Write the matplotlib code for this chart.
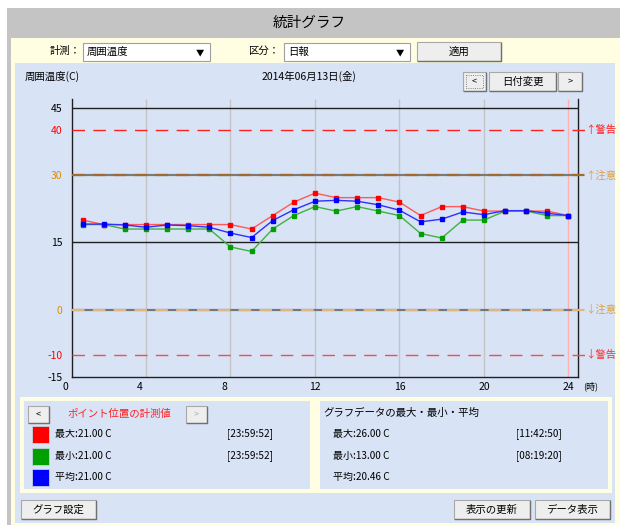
import matplotlib.pyplot as plt
from matplotlib.patches import Rectangle

plt.rcParams['font.family'] = ['Noto Sans CJK JP', 'DejaVu Sans']

# hourly readings (C)
hours = list(range(1, 25))
t_max = [20, 19, 19, 19, 19, 19, 19, 19, 18, 21, 24, 26, 25, 25, 25, 24, 21, 23, 23, 22, 22, 22, 22, 21]
t_min = [19, 19, 18, 18, 18, 18, 18, 14, 13, 18, 21, 23, 22, 23, 22, 21, 17, 16, 20, 20, 22, 22, 21, 21]
t_avg = [19.1, 19.1, 18.9, 18.4, 18.9, 18.75, 18.4, 17.1, 16.1, 19.9, 22.3, 24.2,
         24.4, 24.2, 23.4, 22.2, 19.6, 20.2, 21.8, 21.2, 22.1, 22.1, 21.5, 21.0]

x_ticks = [0, 4, 8, 12, 16, 20, 24]
y_ticks = [45, 40, 30, 15, 0, -10, -15]
y_tick_colors = ['black', 'red', '#e08a00', 'black', '#e08a00', 'red', 'black']

limit_values = [40, 30, 0, -10]
limit_labels = ['↑警告', '↑注意', '↓注意', '↓警告']
limit_colors = ['#ff2020', '#e0a040', '#e0a040', '#ff3030']

point_max_time = '[23:59:52]'
point_min_time = '[23:59:52]'
day_max_time = '[11:42:50]'
day_min_time = '[08:19:20]'
day_avg = 20.46

BLUE = '#d8e4f6'
YELLOW = '#fffde2'
GRAY = '#c4c4c4'
FS = 7.5

fig = plt.figure(figsize=(6.2, 5.25), dpi=100)
fig.patch.set_facecolor('white')

# ---- UI frame drawn in pixel coordinates ----
ui = fig.add_axes([0, 0, 1, 1], zorder=0)
ui.set_xlim(0, 620)
ui.set_ylim(525, 0)
ui.axis('off')


def box(x, y, w, h, fc, ec='none', lw=1, ls='-'):
    ui.add_patch(Rectangle((x, y), w, h, facecolor=fc, edgecolor=ec, linewidth=lw,
                           linestyle=ls))


def button(x, y, w, h, label, color='black', size=FS):
    box(x, y, w, h, '#eeeeee', '#a8a8a8', 0.8)
    ui.plot([x + 1, x + w, x + w], [y + h, y + h, y + 1], color='#707070', lw=1)
    ui.text(x + w / 2, y + h / 2, label, ha='center', va='center', fontsize=size, color=color)


def combo(x, y, w, h, label):
    box(x, y, w, h, 'white', '#a0a0a0', 0.8)
    ui.text(x + 4, y + h / 2, label, ha='left', va='center', fontsize=FS)
    ui.text(x + w - 10, y + h / 2 + 1, '▼', ha='center', va='center', fontsize=6)


box(7, 8, 613, 517, GRAY)
box(11, 38, 609, 487, YELLOW)
ui.text(309, 23, '統計グラフ', ha='center', va='center', fontsize=10.5)

ui.text(50, 51, '計測：', ha='left', va='center', fontsize=FS)
combo(83, 43, 127, 18, '周囲温度')
ui.text(248, 51, '区分：', ha='left', va='center', fontsize=FS)
combo(284, 43, 126, 18, '日報')
button(417, 42, 84, 19, '適用')

box(15, 63, 600, 460, BLUE)
ui.text(25, 76, '周囲温度(C)', ha='left', va='center', fontsize=7.5)
ui.text(309, 76, '2014年06月13日(金)', ha='center', va='center', fontsize=7.5)
button(463, 72, 23, 19, '<', size=6.5)
box(466, 75, 17, 13, 'none', '#606060', 0.6, ':')
button(489, 72, 67, 19, '日付変更')
button(558, 72, 24, 19, '>', size=6.5)

# lower info panels
box(20, 397, 592, 96, YELLOW)
box(24, 401, 286, 88, BLUE)
box(320, 401, 288, 88, BLUE)

button(28, 406, 21, 17, '<', size=6.5)
ui.text(67, 414, 'ポイント位置の計測値', ha='left', va='center', fontsize=FS, color='#ff2020')
button(186, 406, 21, 17, '>', color='#b0b0b0', size=6.5)

series_colors = ['#ff0000', '#00a000', '#0000ff']
rows = [('最大', t_max[-1], point_max_time), ('最小', t_min[-1], point_min_time),
        ('平均', t_avg[-1], '')]
for i, (name, val, stamp) in enumerate(rows):
    yc = 434 + i * 21.5
    box(32, yc - 8, 17, 17, series_colors[i], '#c8d0e0', 0.6)
    ui.text(55, yc, f'{name}:{val:.2f} C', ha='left', va='center', fontsize=7.2)
    ui.text(227, yc, stamp, ha='left', va='center', fontsize=7.2)

ui.text(323, 413, 'グラフデータの最大・最小・平均', ha='left', va='center', fontsize=FS)
summary = [('最大', max(t_max), day_max_time), ('最小', min(t_min), day_min_time),
           ('平均', day_avg, '')]
for i, (name, val, stamp) in enumerate(summary):
    yc = 434 + i * 21.5
    ui.text(333, yc, f'{name}:{val:.2f} C', ha='left', va='center', fontsize=7.2)
    ui.text(516, yc, stamp, ha='left', va='center', fontsize=7.2)

button(21, 500, 75, 19, 'グラフ設定')
button(454, 500, 76, 19, '表示の更新')
button(535, 500, 75, 19, 'データ表示')

# ---- chart ----
ax = fig.add_axes([72 / 620, 1 - 377 / 525, 506 / 620, 278 / 525], zorder=1)
ax.set_facecolor('none')
ax.set_xlim(0.5, 24.45)
ax.set_ylim(-15, 47)
ax.spines['top'].set_visible(False)
for s in ['left', 'bottom', 'right']:
    ax.spines[s].set_color('#202020')
    ax.spines[s].set_linewidth(1)

ax.vlines(x_ticks[1:-1], -15, 47, color='#c4c4c4', lw=1, zorder=1)
ax.vlines(x_ticks[-1], -15, 47, color='#ffb0b0', lw=1, zorder=1)

ax.axhline(45, color='#202020', lw=1, zorder=2)
ax.axhline(15, color='#202020', lw=1, zorder=2)
ax.axhline(30, color='#7a7a7a', lw=1.6, zorder=2)
ax.axhline(0, color='#707880', lw=1.6, zorder=2)

line_ext = 24.78
dash_colors = ['#ff2020', '#a06a30', '#e2b680', '#ff4848']
dash_widths = [1, 1.6, 1.6, 1]
for v, lab, c, dc, w in zip(limit_values, limit_labels, limit_colors, dash_colors, dash_widths):
    ax.plot([0.5, line_ext], [v, v], color=dc, lw=w, dashes=(9 / w, 6 / w),
            clip_on=False, zorder=3)
    ax.text(line_ext + 0.03, v, lab, color=c, fontsize=7.5, ha='left', va='center',
            clip_on=False)

ax.plot(hours, t_max, color='#ff5858', lw=1, marker='s', ms=3.2, mfc='#ff0000',
        mec='#ff0000', zorder=5)
ax.plot(hours, t_min, color='#40b040', lw=1, marker='s', ms=3.2, mfc='#00a000',
        mec='#00a000', zorder=4)
ax.plot(hours, t_avg, color='#3030ff', lw=1, marker='s', ms=3.2, mfc='#0000ff',
        mec='#0000ff', zorder=6)

ax.set_yticks(y_ticks)
ax.set_yticklabels([str(t) for t in y_ticks], fontsize=7.5)
for lab, c in zip(ax.get_yticklabels(), y_tick_colors):
    lab.set_color(c)
ax.tick_params(axis='y', length=0, pad=7)
ax.set_xticks([])
tr = ax.get_xaxis_transform()
for t in x_ticks:
    pos = t if t >= 10 else max(t - 0.28, 0.17)
    ax.text(pos, -0.036, str(t), transform=tr, ha='center', va='center', fontsize=7.5,
            clip_on=False)
ax.text(25.06, -0.033, '(時)', transform=tr, ha='center', va='center', fontsize=6.5,
        clip_on=False)

fig.savefig('out.png', dpi=100)
